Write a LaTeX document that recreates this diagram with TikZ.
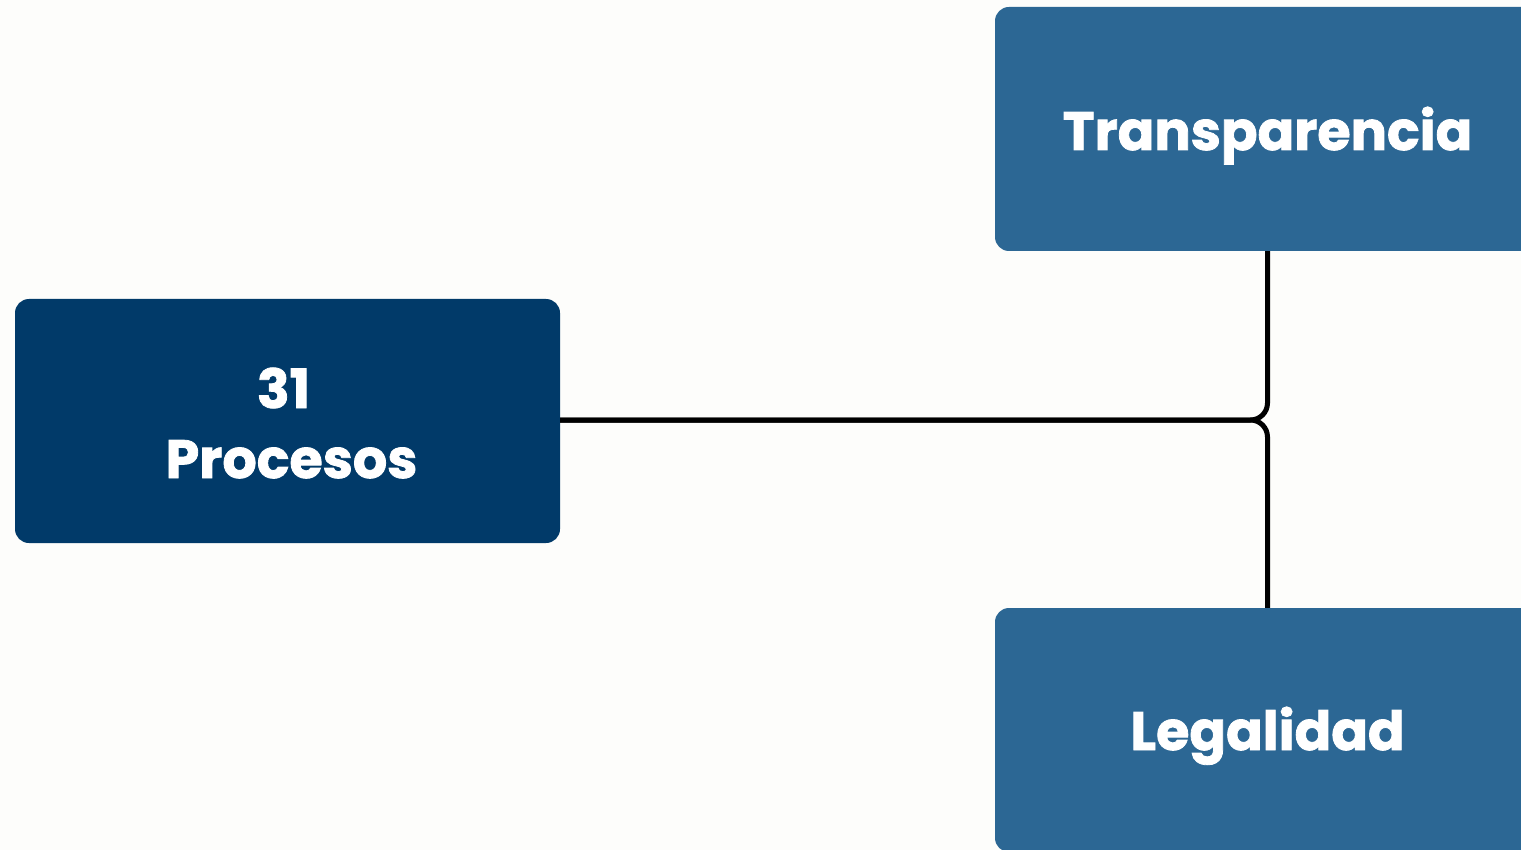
\documentclass[tikz,border=0pt]{standalone}
\usepackage{fontspec}
\setmainfont{Poppins}[BoldFeatures={FakeBold=1.5}]
\definecolor{bgc}{HTML}{FDFDFB}
\definecolor{navy}{HTML}{013A69}
\definecolor{steel}{HTML}{2C6794}
\begin{document}
\begin{tikzpicture}[x=1pt,y=-1pt,
  box/.style={draw=none,rounded corners=14pt,minimum width=545pt,minimum height=244pt,text=white,font=\fontsize{54}{68}\selectfont\bfseries,align=center,inner sep=0pt},
  conn/.style={line width=5pt,rounded corners=17pt,black}]
\fill[bgc] (0,0) rectangle (1521,850);
\useasboundingbox (0,0) rectangle (1521,850);
\node[box,fill=navy] (proc) at (287.5,421) {\smash{\raisebox{13pt}{\begin{tabular}[t]{@{}c@{}}\hspace*{-8pt}31\\[2pt]\hspace*{8pt}Procesos\end{tabular}}}};
\node[box,fill=steel] (trans) at (1267.5,129) {\smash{\raisebox{-21pt}{Transparencia}}};
\node[box,fill=steel] (leg) at (1267.5,730) {\smash{\raisebox{-20pt}{Legalidad}}};
\coordinate (j) at (1267.5,420);
\draw[conn] (proc.east |- j) -- (j) -- (trans.south);
\draw[conn] (proc.east |- j) -- (j) -- (leg.north);
\end{tikzpicture}
\end{document}
